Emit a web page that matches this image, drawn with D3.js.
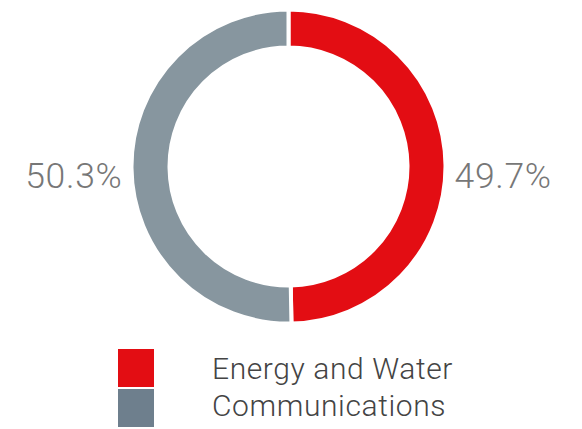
<!DOCTYPE html>
<meta charset="utf-8">
<style>
body { margin: 0; background: #fff; }
svg { display: block; }
.label { font-family: Roboto, "Liberation Sans", sans-serif; font-weight: 300; fill: #777; letter-spacing: 0.7px; }
.legend text { font-family: Roboto, "Liberation Sans", sans-serif; font-weight: 300; fill: #444; letter-spacing: 0.6px; }
</style>
<svg width="582" height="429"></svg>
<script src="https://cdn.jsdelivr.net/npm/d3@7"></script>
<script>

var categories = ["Energy and Water", "Communications"];
var shares = [49.7, 50.3];
var sliceColors = ["#e30d13", "#87969f"];
var legendColors = ["#e30d13", "#6e7f8d"];

var svg = d3.select("svg");

var cx = 288.5, cy = 166.5,
    outerR = 157, innerR = 119;

var pie = d3.pie().sort(null).value(function(d) { return d; });
var arc = d3.arc().innerRadius(innerR).outerRadius(outerR);

var g = svg.append("g").attr("transform", "translate(" + cx + "," + cy + ")");

var arcs = pie(shares);

g.selectAll("path")
    .data(arcs)
  .enter().append("path")
    .attr("d", arc)
    .attr("fill", function(d, i) { return sliceColors[i]; })
    .attr("stroke", "#fff")
    .attr("stroke-width", 4);

// percentage labels, one on each side
g.selectAll("text.label")
    .data(arcs)
  .enter().append("text")
    .attr("class", "label")
    .attr("x", function(d, i) { return i === 0 ? outerR + 9 : -outerR - 9; })
    .attr("y", 21)
    .attr("text-anchor", function(d, i) { return i === 0 ? "start" : "end"; })
    .style("font-size", "35.5px")
    .text(function(d) { return d.data.toFixed(1) + "%"; });

var legend = svg.append("g").attr("class", "legend");

var row = d3.scaleBand().domain(categories).range([349, 427]).paddingInner(0.05);

legend.selectAll("rect")
    .data(categories)
  .enter().append("rect")
    .attr("x", 118)
    .attr("y", function(d) { return row(d); })
    .attr("width", 36)
    .attr("height", row.bandwidth())
    .attr("fill", function(d, i) { return legendColors[i]; });

legend.selectAll("text")
    .data(categories)
  .enter().append("text")
    .attr("x", 212)
    .attr("y", function(d, i) { return i === 0 ? 379 : 416; })
    .style("font-size", "30px")
    .text(function(d) { return d; });

</script>
